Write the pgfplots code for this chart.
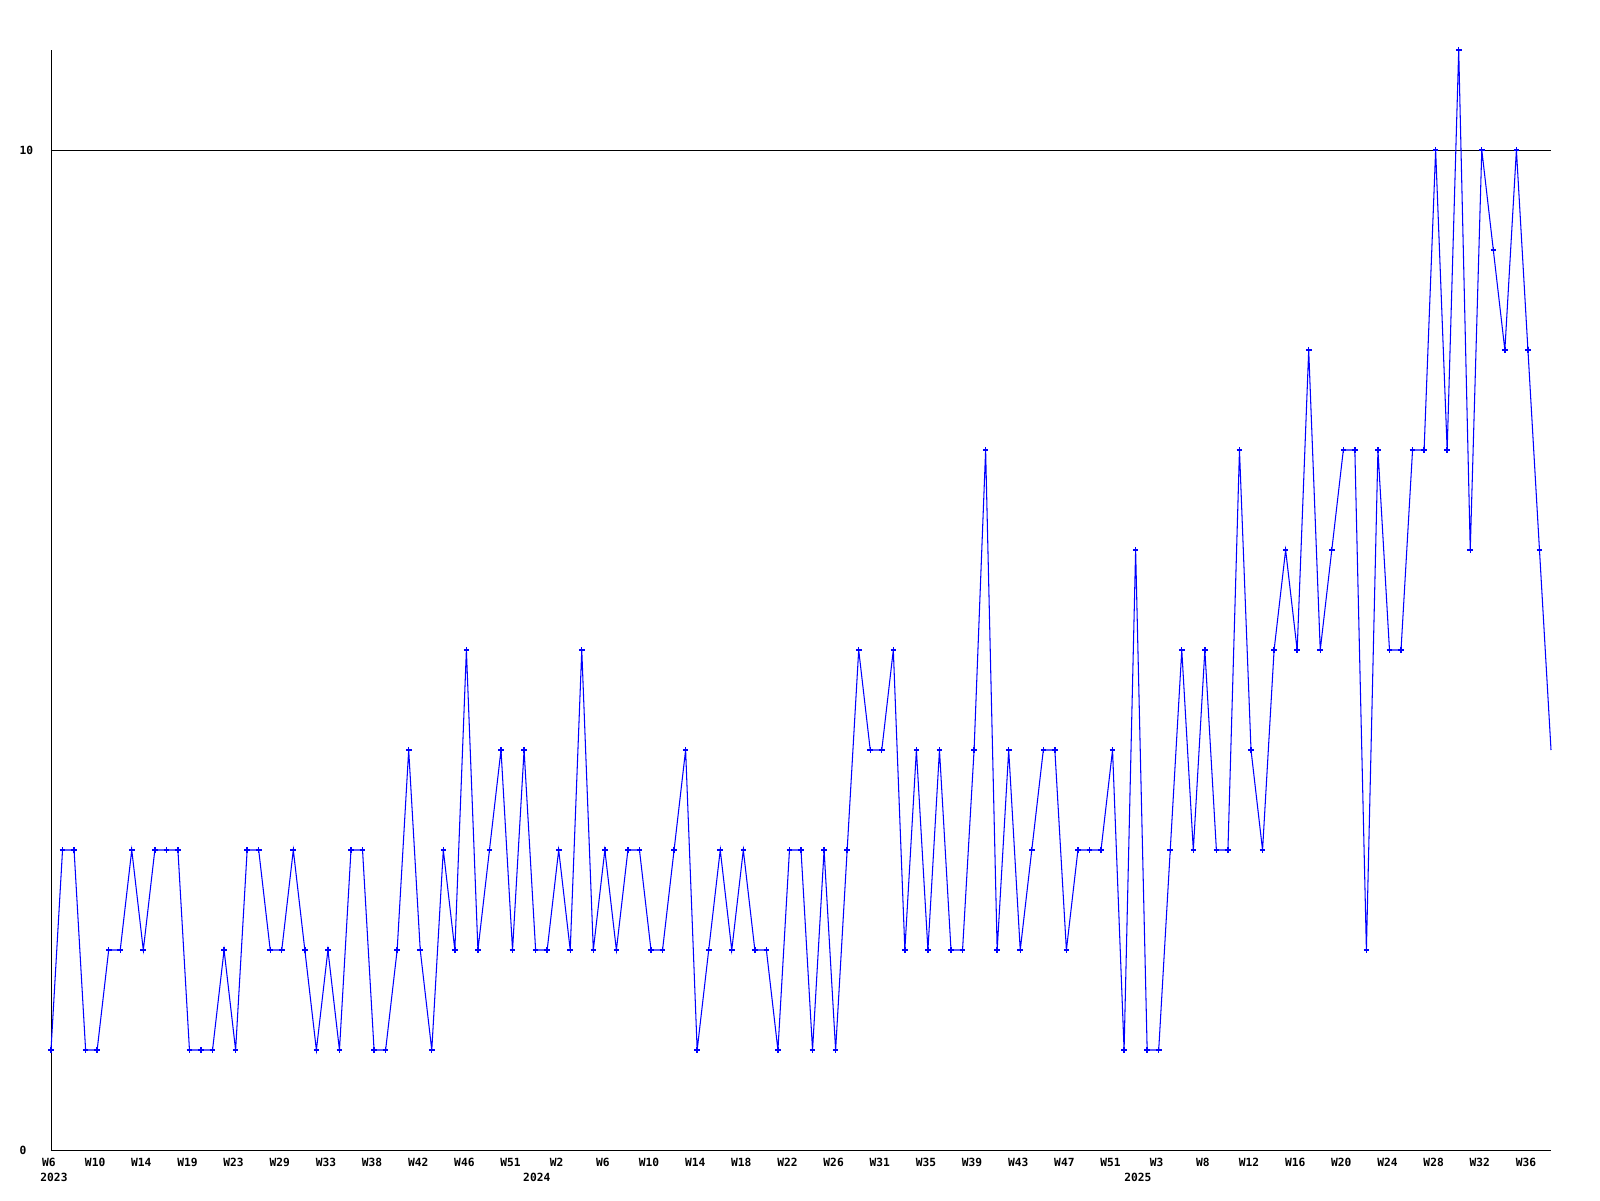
\documentclass[border=0pt]{standalone}
\usepackage{fontspec}
\newfontfamily\chartfont{DejaVu Sans Mono}
\usepackage{pgfplots}
\usepackage{pgfplotstable}
\pgfplotsset{compat=1.18}

\pgfplotstableread{
idx val
0 1
1 3
2 3
3 1
4 1
5 2
6 2
7 3
8 2
9 3
10 3
11 3
12 1
13 1
14 1
15 2
16 1
17 3
18 3
19 2
20 2
21 3
22 2
23 1
24 2
25 1
26 3
27 3
28 1
29 1
30 2
31 4
32 2
33 1
34 3
35 2
36 5
37 2
38 3
39 4
40 2
41 4
42 2
43 2
44 3
45 2
46 5
47 2
48 3
49 2
50 3
51 3
52 2
53 2
54 3
55 4
56 1
57 2
58 3
59 2
60 3
61 2
62 2
63 1
64 3
65 3
66 1
67 3
68 1
69 3
70 5
71 4
72 4
73 5
74 2
75 4
76 2
77 4
78 2
79 2
80 4
81 7
82 2
83 4
84 2
85 3
86 4
87 4
88 2
89 3
90 3
91 3
92 4
93 1
94 6
95 1
96 1
97 3
98 5
99 3
100 5
101 3
102 3
103 7
104 4
105 3
106 5
107 6
108 5
109 8
110 5
111 6
112 7
113 7
114 2
115 7
116 5
117 5
118 7
119 7
120 10
121 7
122 11
123 6
124 10
125 9
126 8
127 10
128 8
129 6
130 4
}\weekdata

\begin{document}
\begin{tikzpicture}
\path[use as bounding box] (-0.51cm,-0.5cm) rectangle (15.49cm,11.5cm);
\begin{axis}[
  at={(0,0)}, anchor=south west,
  scale only axis, width=15cm, height=11cm,
  xmin=0, xmax=130, ymin=0, ymax=11,
  axis x line*=bottom, axis y line*=left,
  axis line style={black, line width=0.28pt, -},
  xtick={0,4,...,128},
  xticklabels={W6,W10,W14,W19,W23,W29,W33,W38,W42,W46,W51,W2,W6,W10,W14,W18,W22,W26,W31,W35,W39,W43,W47,W51,W3,W8,W12,W16,W20,W24,W28,W32,W36},
  ytick={0,10},
  major tick length=0pt,
  ymajorgrids=true,
  major grid style={black, line width=0.25pt},
  tick label style={font=\chartfont\bfseries\fontsize{3.2}{4}\selectfont, inner sep=0pt},
  /pgf/number format/assume math mode=true,
  xticklabel style={anchor=north, text height=2.34pt, text depth=0pt, yshift=-0.08cm, xshift=-0.02cm},
  yticklabel style={anchor=west, xshift=-0.32cm},
  clip=false,
]
\addplot[blue, line width=0.3pt, no marks] table[x=idx, y=val] {\weekdata};
\addplot[blue, line width=0.4pt, only marks, mark=+, mark size=0.8pt, restrict x to domain=0:129.5] table[x=idx, y=val] {\weekdata};
\node[anchor=north, inner sep=0pt, text height=2.34pt, text depth=0pt, font=\chartfont\bfseries\fontsize{3.2}{4}\selectfont] at (axis cs:0.26,0) [yshift=-0.23cm] {2023};
\node[anchor=north, inner sep=0pt, text height=2.34pt, text depth=0pt, font=\chartfont\bfseries\fontsize{3.2}{4}\selectfont] at (axis cs:42.1,0) [yshift=-0.23cm] {2024};
\node[anchor=north, inner sep=0pt, text height=2.34pt, text depth=0pt, font=\chartfont\bfseries\fontsize{3.2}{4}\selectfont] at (axis cs:94.2,0) [yshift=-0.23cm] {2025};
\end{axis}
\end{tikzpicture}
\end{document}
